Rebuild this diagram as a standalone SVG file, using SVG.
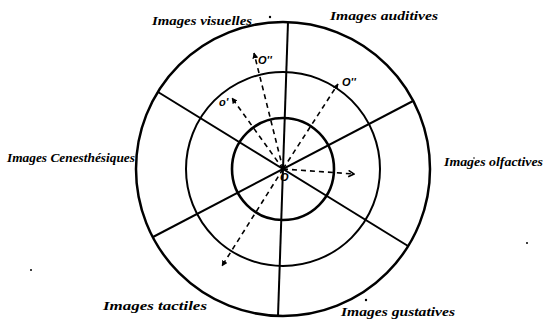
<svg xmlns="http://www.w3.org/2000/svg" width="553" height="328" viewBox="0 0 553 328">
<style>
  .ring{fill:none;stroke:#000}
  .rad{stroke:#000;stroke-width:2;fill:none}
  .dash{stroke:#000;stroke-width:1.6;stroke-dasharray:5 4;fill:none}
  .lbl{font-family:"Liberation Serif",serif;font-style:italic;font-weight:bold;font-size:12px;fill:#000}
  .pt{font-family:"Liberation Sans",sans-serif;font-style:italic;font-weight:bold;font-size:11px;fill:#000}
</style>
<defs>
  <marker id="ah" viewBox="0 0 10 10" refX="9" refY="5" markerWidth="6" markerHeight="6" orient="auto" markerUnits="userSpaceOnUse">
    <path d="M0,0 L10,5 L0,10 Z" fill="#000"/>
  </marker>
  <marker id="ao" viewBox="0 0 10 10" refX="9" refY="5" markerWidth="8" markerHeight="8" orient="auto" markerUnits="userSpaceOnUse">
    <path d="M2,1 L9,5 L2,9" fill="none" stroke="#000" stroke-width="2"/>
  </marker>
</defs>
<rect width="553" height="328" fill="#fff"/>
<g id="rings">
  <circle class="ring" cx="283" cy="169" r="147" stroke-width="2.5"/>
  <circle class="ring" cx="283" cy="169" r="97" stroke-width="2"/>
  <circle class="ring" cx="283" cy="169" r="51" stroke-width="2.6"/>
</g>
<g id="sectors">
  <line class="rad" x1="288" y1="22" x2="278" y2="316"/>
  <line class="rad" x1="158" y1="92" x2="408" y2="246"/>
  <line class="rad" x1="413" y1="101" x2="153" y2="237"/>
</g>
<g id="connectors">
  <line class="dash" x1="283" y1="169" x2="254" y2="53" marker-end="url(#ah)"/>
  <line class="dash" x1="283" y1="169" x2="232" y2="98" marker-end="url(#ah)"/>
  <line class="dash" x1="283" y1="169" x2="338" y2="84" marker-end="url(#ah)"/>
  <line class="dash" x1="283" y1="169" x2="354" y2="174" marker-end="url(#ao)"/>
  <line class="dash" x1="283" y1="169" x2="222" y2="266" marker-end="url(#ah)"/>
</g>
<g id="points">
  <text class="pt" x="258" y="64">O''</text>
  <text class="pt" x="219" y="106">o'</text>
  <text class="pt" x="342" y="86">O''</text>
  <text class="pt" x="280" y="181" font-size="9">O</text>
</g>
<g id="labels">
  <text id="visuelles" class="lbl" x="152" y="25" textLength="100" lengthAdjust="spacingAndGlyphs">Images visuelles</text>
  <text id="auditives" class="lbl" x="330" y="20" textLength="108" lengthAdjust="spacingAndGlyphs">Images auditives</text>
  <text id="cenesthesiques" class="lbl" x="7" y="162" textLength="128" lengthAdjust="spacingAndGlyphs">Images Cenesthésiques</text>
  <text id="olfactives" class="lbl" x="444" y="166" textLength="99" lengthAdjust="spacingAndGlyphs">Images olfactives</text>
  <text id="tactiles" class="lbl" x="103" y="310" textLength="104" lengthAdjust="spacingAndGlyphs">Images tactiles</text>
  <text id="gustatives" class="lbl" x="341" y="316" textLength="114" lengthAdjust="spacingAndGlyphs">Images gustatives</text>
</g>
<g id="specks" fill="#000">
  <circle cx="270" cy="17" r="1.2"/>
  <circle cx="366" cy="300" r="1.2"/>
  <circle cx="31" cy="270" r="1"/>
  <circle cx="527" cy="243" r="1"/>
  <circle cx="474" cy="158" r="0.8"/>
</g>
</svg>
